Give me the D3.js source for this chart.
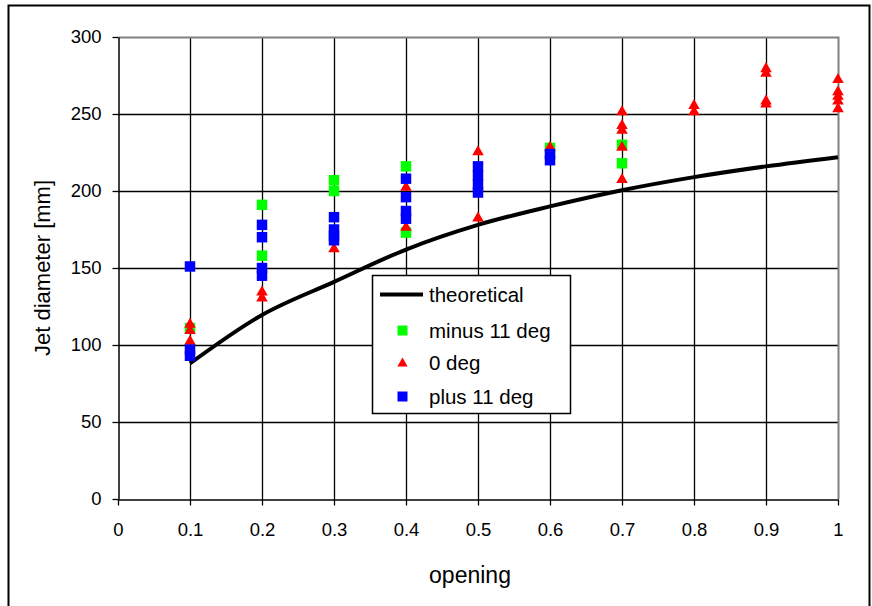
<!DOCTYPE html>
<html>
<head>
<meta charset="utf-8">
<script src="https://cdn.jsdelivr.net/npm/d3@7/dist/d3.min.js"></script>
<style>
  body { margin: 0; background: #fff; }
  svg { font-family: "Liberation Sans", Arial, sans-serif; }
</style>
</head>
<body>
<svg width="872" height="606"></svg>
<script>
// theoretical curve
var openings = [0.1, 0.2, 0.3, 0.4, 0.5, 0.6, 0.7, 0.8, 0.9, 1.0];
var theoretical = [88, 119.5, 141, 162, 178, 190, 200.5, 209, 216, 222];

// measured points: minus 11 deg
var minusX = [0.1, 0.2, 0.2, 0.3, 0.3, 0.4, 0.4, 0.6, 0.7, 0.7];
var minusY = [111, 191, 158, 207, 200, 216, 173, 228, 230, 218];

// 0 deg
var zeroX = [0.1, 0.1, 0.1, 0.2, 0.2, 0.3, 0.4, 0.4, 0.5, 0.5, 0.6,
             0.7, 0.7, 0.7, 0.7, 0.7, 0.8, 0.8, 0.9, 0.9, 0.9, 0.9,
             1.0, 1.0, 1.0, 1.0, 1.0];
var zeroY = [114, 110, 103, 135, 131, 163, 203, 177, 226, 183, 229,
             252, 243, 240, 229, 208, 256, 252, 280, 277, 259, 257,
             273, 265, 262, 259, 254];

// plus 11 deg
var plusX = [0.1, 0.1, 0.1, 0.2, 0.2, 0.2, 0.2, 0.3, 0.3, 0.3, 0.3,
             0.4, 0.4, 0.4, 0.4, 0.5, 0.5, 0.5, 0.5, 0.6, 0.6];
var plusY = [151, 97, 93, 178, 170, 150, 145, 183, 175, 171, 168,
             208, 196, 187, 182, 216, 210, 204, 199, 224, 220];

var xTicks = [0, 0.1, 0.2, 0.3, 0.4, 0.5, 0.6, 0.7, 0.8, 0.9, 1];
var yTicks = [0, 50, 100, 150, 200, 250, 300];

var svg = d3.select("svg"),
    margin = {top: 37, right: 34, bottom: 107, left: 118},
    width = 872 - margin.left - margin.right,
    height = 606 - margin.top - margin.bottom;

// outer chart border
svg.append("rect")
    .attr("x", 8.5).attr("y", 5.5)
    .attr("width", 861).attr("height", 610)
    .attr("fill", "none").attr("stroke", "#000").attr("stroke-width", 2);

var g = svg.append("g").attr("transform", "translate(" + margin.left + "," + margin.top + ")");

var x = d3.scaleLinear().domain([0, 1]).range([0, width]);
var y = d3.scaleLinear().domain([0, 300]).range([height, 0]);

// grid
g.append("g").selectAll("line")
  .data(yTicks.filter(function(d) { return d > 0 && d < 300; }))
  .enter().append("line")
    .attr("x1", 0).attr("x2", width)
    .attr("y1", function(d) { return Math.round(y(d)) + 0.5; })
    .attr("y2", function(d) { return Math.round(y(d)) + 0.5; })
    .attr("stroke", "#000").attr("stroke-width", 1.3);

g.append("g").selectAll("line")
  .data(xTicks.filter(function(d) { return d > 0 && d < 1; }))
  .enter().append("line")
    .attr("y1", 0).attr("y2", height)
    .attr("x1", function(d) { return Math.round(x(d)) + 0.5; })
    .attr("x2", function(d) { return Math.round(x(d)) + 0.5; })
    .attr("stroke", "#000").attr("stroke-width", 1.3);

// plot area border (top and right gray)
g.append("path")
    .attr("d", "M0.5,0.5H" + (width + 0.5) + "V" + height)
    .attr("fill", "none").attr("stroke", "#808080").attr("stroke-width", 2);

// axes
var yAxis = g.append("g")
    .attr("transform", "translate(0.5,0)")
    .call(d3.axisLeft(y).tickValues(yTicks).tickSize(6).tickSizeOuter(0).tickPadding(11));
var xAxis = g.append("g")
    .attr("transform", "translate(0," + (height + 0.5) + ")")
    .call(d3.axisBottom(x).tickValues(xTicks).tickFormat(d3.format("")).tickSize(6).tickSizeOuter(0).tickPadding(17));

[yAxis, xAxis].forEach(function(a) {
  a.select(".domain").attr("stroke", "#000").attr("stroke-width", 1.5);
  a.selectAll(".tick line").attr("stroke", "#000").attr("stroke-width", 1.3);
  a.selectAll("text").attr("font-size", 18.5).attr("fill", "#000")
    .attr("font-family", "'Liberation Sans', Arial, sans-serif");
});

// axis titles
svg.append("text")
    .attr("transform", "translate(50," + (margin.top + height / 2) + ") rotate(-90)")
    .attr("text-anchor", "middle")
    .attr("font-size", 22)
    .text("Jet diameter [mm]");
svg.append("text")
    .attr("x", 470)
    .attr("y", 583)
    .attr("text-anchor", "middle")
    .attr("font-size", 23)
    .text("opening");

// theoretical line
var line = d3.line()
    .x(function(d, i) { return x(openings[i]); })
    .y(function(d) { return y(d); })
    .curve(d3.curveMonotoneX);

g.append("path")
    .datum(theoretical)
    .attr("d", line)
    .attr("fill", "none")
    .attr("stroke", "#000")
    .attr("stroke-width", 4);

var sq = d3.symbol().type(d3.symbolSquare).size(110);
var tri = d3.symbol().type(d3.symbolTriangle).size(58);

function drawSeries(xs, ys, sym, color, dy) {
  g.append("g").selectAll("path")
    .data(ys)
    .enter().append("path")
      .attr("d", sym)
      .attr("fill", color)
      .attr("transform", function(d, i) {
        return "translate(" + x(xs[i]) + "," + (y(d) + dy) + ")";
      });
}

drawSeries(minusX, minusY, sq, "#00ff00", 0);
drawSeries(zeroX, zeroY, tri, "#ff0000", 1);
drawSeries(plusX, plusY, sq, "#0000ff", 0);

// legend
var legend = svg.append("g").attr("transform", "translate(372,275)");
legend.append("rect")
    .attr("x", 0.5).attr("y", 0.5)
    .attr("width", 198).attr("height", 138)
    .attr("fill", "#fff").attr("stroke", "#000").attr("stroke-width", 1.5);

var legendItems = ["theoretical", "minus 11 deg", "0 deg", "plus 11 deg"];
var legendY = [19.5, 55.5, 87.5, 121.5];

legend.append("line")
    .attr("x1", 8).attr("x2", 51)
    .attr("y1", legendY[0]).attr("y2", legendY[0])
    .attr("stroke", "#000").attr("stroke-width", 4);
legend.append("path").attr("d", d3.symbol().type(d3.symbolSquare).size(100))
    .attr("fill", "#00ff00").attr("transform", "translate(30.5," + legendY[1] + ")");
legend.append("path").attr("d", d3.symbol().type(d3.symbolTriangle).size(45))
    .attr("fill", "#ff0000").attr("transform", "translate(30.5," + (legendY[2] + 1) + ")");
legend.append("path").attr("d", d3.symbol().type(d3.symbolSquare).size(100))
    .attr("fill", "#0000ff").attr("transform", "translate(30.5," + legendY[3] + ")");

legend.selectAll("text.lbl")
  .data(legendItems)
  .enter().append("text")
    .attr("class", "lbl")
    .attr("x", 57)
    .attr("y", function(d, i) { return legendY[i]; })
    .attr("dy", "0.35em")
    .attr("font-size", 20.5)
    .text(function(d) { return d; });
</script>
</body>
</html>
